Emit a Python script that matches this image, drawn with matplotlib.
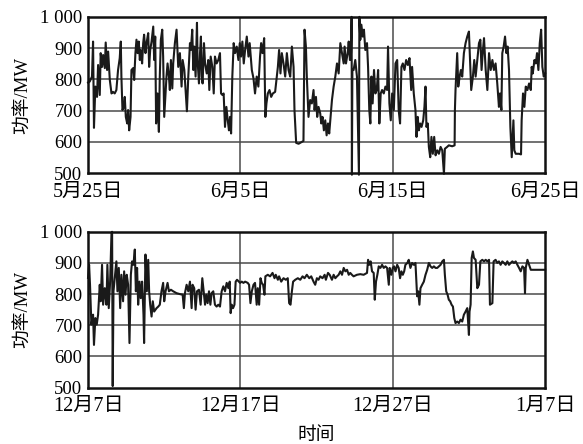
import matplotlib
matplotlib.use("Agg")
import matplotlib.pyplot as plt
import numpy as np

plt.rcParams['font.family'] = ['Liberation Serif', 'Noto Sans CJK SC', 'DejaVu Sans']

# ---------------- data: summer period (days from 5/25) ----------------
summer_day = [0.00,0.11,0.26,0.33,0.39,0.48,0.59,0.66,0.77,0.83,0.92,0.99,1.10,1.16,1.25,1.32,1.43,1.54,1.64,1.75,
1.86,1.97,2.08,2.15,2.19,2.26,2.35,2.41,2.48,2.57,2.63,2.70,2.79,2.85,2.96,3.03,3.11,3.18,3.25,3.33,
3.40,3.46,3.55,3.62,3.68,3.77,3.84,3.95,4.01,4.08,4.17,4.28,4.34,4.41,4.47,4.56,4.65,4.71,4.78,4.87,
4.93,5.00,5.09,5.15,5.22,5.31,5.37,5.44,5.53,5.59,5.70,5.81,5.92,6.03,6.14,6.21,6.32,6.40,6.49,6.58,
6.69,6.75,6.84,6.91,6.97,7.06,7.15,7.19,7.28,7.35,7.41,7.46,7.52,7.61,7.68,7.79,7.89,7.96,8.05,8.16,
8.25,8.33,8.44,8.55,8.66,8.73,8.82,8.90,8.99,9.08,9.17,9.25,9.32,9.39,9.47,9.56,9.65,9.76,9.87,9.96,
10.04,10.13,10.22,10.31,10.42,10.53,10.61,10.75,10.86,10.96,11.07,11.18,11.29,11.36,11.45,11.56,11.64,11.71,11.80,11.91,
12.02,12.13,12.28,12.39,12.46,12.54,12.63,12.72,12.83,12.94,13.05,13.16,13.27,13.38,13.49,13.55,13.66,13.82,14.04,14.14,
14.21,14.30,14.36,14.47,14.58,14.69,14.80,14.87,14.96,15.04,15.13,15.24,15.31,15.39,15.48,15.57,15.66,15.75,15.83,15.92,
16.01,16.12,16.23,16.34,16.45,16.56,16.67,16.78,16.84,16.93,17.04,17.11,17.19,17.26,17.30,17.32,17.35,17.43,17.54,17.65,
17.78,17.81,17.87,17.94,18.03,18.11,18.20,18.31,18.38,18.46,18.53,18.60,18.68,18.77,18.86,18.95,19.04,19.12,19.21,19.30,
19.41,19.52,19.63,19.69,19.78,19.87,19.96,20.07,20.18,20.29,20.39,20.48,20.57,20.66,20.77,20.88,20.99,21.10,21.21,21.27,
21.38,21.49,21.56,21.64,21.71,21.80,21.89,22.00,22.08,22.15,22.21,22.30,22.37,22.46,22.54,22.63,22.72,22.81,22.92,23.03,
23.14,23.25,23.36,23.42,23.57,23.68,23.90,24.06,24.08,24.12,24.23,24.30,24.39,24.47,24.56,24.67,24.78,24.89,25.00,25.07,
25.15,25.26,25.35,25.44,25.55,25.66,25.75,25.83,25.92,25.99,26.10,26.21,26.32,26.43,26.54,26.64,26.75,26.86,26.97,27.04,
27.13,27.19,27.28,27.37,27.46,27.54,27.63,27.72,27.81,27.92,27.98,28.07,28.29,28.42,28.46,28.55,28.64,28.73,28.84,28.95,
29.06,29.12,29.19,29.30,29.39,29.47,29.56,29.65,29.74,29.82,29.91,30.00]
summer_mw = [790,793,809,921,645,777,744,846,750,884,840,878,836,918,830,889,798,755,760,755,
766,830,868,921,809,702,712,744,680,659,702,637,680,830,836,798,884,927,884,921,
862,894,851,916,943,884,916,948,840,894,921,969,862,937,659,755,632,809,927,959,
873,680,755,809,851,809,766,862,771,851,916,959,840,884,777,862,830,766,698,809,
916,894,959,830,905,809,981,862,787,884,937,809,787,916,851,819,862,766,873,840,
755,873,851,862,884,755,750,755,648,712,669,637,680,627,809,916,884,905,862,916,
873,921,851,894,937,873,916,830,803,755,809,777,873,916,884,932,680,723,755,766,
744,755,760,809,840,894,819,884,851,809,884,830,809,905,840,702,597,594,600,603,
959,905,809,680,734,723,766,702,744,680,712,691,659,680,637,669,621,659,627,680,
734,777,809,851,819,916,884,851,905,851,884,921,862,884,1000,495,830,830,862,809,
495,1000,927,975,937,959,894,916,840,702,659,809,723,830,755,766,830,659,755,766,
755,777,766,905,723,669,755,702,851,862,702,659,840,851,830,862,846,868,766,840,
755,702,616,680,637,659,648,669,712,777,648,659,584,551,616,562,616,557,573,562,
584,573,498,578,584,589,586,589,702,766,884,777,809,830,809,884,916,937,953,862,
766,809,862,809,862,916,927,830,894,932,830,766,884,830,862,830,851,787,712,755,
702,884,905,937,884,905,830,648,551,669,573,562,562,560,669,755,712,777,766,787,
766,840,819,862,851,884,830,916,959,840,809,819]

# ---------------- data: winter period (days from 12/7) ----------------
winter_day = [0.00,0.07,0.13,0.22,0.33,0.39,0.48,0.57,0.66,0.77,0.83,0.92,0.99,1.10,1.21,1.27,1.36,1.45,1.54,1.58,
1.62,1.67,1.75,1.86,1.93,2.02,2.11,2.19,2.30,2.37,2.46,2.54,2.63,2.72,2.81,2.89,2.98,3.07,3.14,3.22,
3.29,3.38,3.46,3.55,3.64,3.68,3.77,3.86,3.95,4.01,4.08,4.17,4.25,4.34,4.50,4.61,4.71,4.82,4.93,5.00,
5.09,5.22,5.31,5.44,5.59,5.81,6.03,6.21,6.29,6.36,6.47,6.58,6.69,6.80,6.86,6.97,7.06,7.15,7.28,7.39,
7.50,7.59,7.68,7.76,7.85,7.94,8.03,8.11,8.22,8.33,8.44,8.55,8.66,8.77,8.88,8.99,9.10,9.21,9.30,9.36,
9.43,9.52,9.61,9.69,9.78,9.98,10.09,10.20,10.31,10.48,10.57,10.66,10.75,10.86,10.96,11.07,11.14,11.23,11.32,11.40,
11.49,11.58,11.64,11.80,11.95,12.11,12.24,12.32,12.46,12.54,12.68,12.83,12.98,13.11,13.20,13.29,13.38,13.46,13.60,13.77,
13.93,14.08,14.21,14.36,14.52,14.65,14.80,14.91,15.02,15.13,15.24,15.39,15.53,15.61,15.75,15.86,16.01,16.12,16.23,16.34,
16.45,16.56,16.67,16.78,16.89,17.00,17.11,17.21,17.32,17.43,17.65,17.87,18.09,18.31,18.38,18.46,18.55,18.64,18.75,18.82,
18.90,18.99,19.08,19.19,19.30,19.41,19.52,19.63,19.74,19.80,19.91,20.00,20.09,20.18,20.29,20.39,20.48,20.57,20.66,20.75,
20.83,20.96,21.05,21.16,21.27,21.38,21.49,21.60,21.67,21.75,21.82,21.93,22.04,22.15,22.26,22.37,22.48,22.59,22.70,22.81,
22.92,23.03,23.14,23.25,23.36,23.42,23.51,23.60,23.68,23.77,23.86,23.95,24.04,24.12,24.23,24.34,24.45,24.56,24.67,24.78,
24.89,25.00,25.04,25.11,25.18,25.26,25.33,25.44,25.55,25.66,25.75,25.88,25.99,26.10,26.21,26.32,26.38,26.54,26.62,26.75,
26.86,26.97,27.08,27.19,27.30,27.41,27.52,27.63,27.74,27.85,27.96,28.07,28.18,28.29,28.40,28.51,28.62,28.68,28.73,28.84,
28.95,29.06,30.00]
winter_mw = [852,894,830,702,734,637,723,702,734,830,777,894,766,819,766,894,755,840,996,1000,
505,809,851,905,809,884,755,862,777,873,798,862,830,643,862,905,894,943,809,884,
766,840,787,840,734,643,927,809,910,809,766,728,777,744,755,760,766,809,836,777,
809,836,809,814,809,803,800,798,755,803,830,809,840,755,830,819,750,809,814,766,
851,809,766,798,771,809,766,803,809,766,760,766,760,809,825,809,836,819,840,739,
766,755,766,840,846,836,840,836,840,836,830,771,809,830,836,766,819,766,851,836,
830,798,857,862,857,868,851,862,846,857,840,851,846,851,771,766,809,840,846,851,
846,857,851,862,851,857,840,830,851,846,857,851,862,846,868,862,846,862,851,857,
862,873,862,884,873,878,862,868,862,857,862,864,862,868,910,894,905,873,868,782,
840,862,889,884,894,884,889,884,830,884,862,884,889,873,894,884,851,873,862,873,
894,900,910,884,900,894,900,793,809,766,819,830,840,862,878,900,889,884,889,884,
884,889,894,905,910,862,809,798,782,777,766,760,723,707,712,707,718,712,734,744,
755,669,744,766,916,937,916,910,819,830,905,910,905,910,905,910,766,771,905,910,
900,905,894,905,900,894,905,894,900,905,900,905,894,884,873,889,884,803,884,910,
894,878,878]

summer_ticks = [0, 10, 20, 30]
summer_labels = ['5月25日', '6月5日', '6月15日', '6月25日']
winter_ticks = [0, 10, 20, 30]
winter_labels = ['12月7日', '12月17日', '12月27日', '1月7日']
y_ticks = [500, 600, 700, 800, 900, 1000]
y_labels = ['500', '600', '700', '800', '900', '1 000']

fig = plt.figure(figsize=(5.83, 4.44), dpi=100)
ax1 = fig.add_axes([0.151, 0.610, 0.784, 0.352])
ax2 = fig.add_axes([0.151, 0.127, 0.784, 0.351])

FS = 13.5
FSX = 14.5
for ax, xd, yv, tk, tl in [(ax1, summer_day, summer_mw, summer_ticks, summer_labels),
                           (ax2, winter_day, winter_mw, winter_ticks, winter_labels)]:
    ax.set_xlim(0, 30)
    ax.set_ylim(500, 1000)
    for g in [600, 700, 800, 900]:
        ax.axhline(g, color='#4a4a4a', lw=1.1, zorder=1)
    for g in tk[1:-1]:
        ax.axvline(g, color='#4a4a4a', lw=1.1, zorder=1)
    ax.plot(xd, yv, color='#1a1a1a', lw=1.5, zorder=3, clip_on=False)
    ax.set_xticks(tk)
    ax.set_xticklabels(tl, fontsize=FSX)
    ax.set_yticks(y_ticks)
    ax.set_yticklabels(y_labels, fontsize=FS)
    ax.tick_params(axis='x', length=0, pad=7)
    ax.tick_params(axis='y', length=0, pad=4)
    for s in ax.spines.values():
        s.set_linewidth(1.8)
        s.set_color('#111111')
        s.set_zorder(4)
    ax.set_ylabel('功率/MW', fontsize=FS, labelpad=6)

ax2.set_xlabel('时间', fontsize=FS, labelpad=8)

fig.savefig('out.png', dpi=100)
